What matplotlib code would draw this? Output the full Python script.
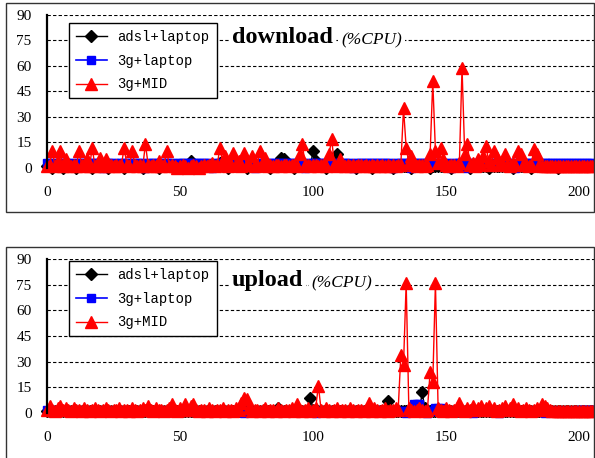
import matplotlib.pyplot as plt
from matplotlib.patches import Rectangle

# sample index 0..205
x = list(range(206))

# download %CPU
dl_adsl = [1, 1, 0, 1, 1, 1, 0, 1, 1, 1, 1, 0, 1, 1, 1, 1, 1, 0, 1, 1,
           1, 1, 1, 0, 1, 1, 1, 1, 1, 0, 1, 1, 1, 1, 1, 1, 0, 1, 1, 1,
           1, 1, 0, 1, 1, 1, 1, 1, 1, 1, 0, 1, 1, 1, 4, 1, 1, 1, 0, 1,
           1, 1, 1, 1, 1, 3, 1, 1, 0, 1, 1, 1, 1, 1, 1, 0, 1, 1, 1, 1,
           1, 1, 1, 1, 0, 1, 1, 1, 6, 5, 1, 1, 1, 0, 1, 1, 1, 1, 1, 1,
           10, 4, 1, 1, 1, 0, 1, 1, 1, 8, 3, 1, 1, 1, 1, 1, 0, 1, 1, 1,
           1, 1, 0, 1, 1, 1, 1, 1, 1, 1, 0, 1, 1, 1, 1, 1, 1, 0, 1, 1,
           1, 1, 1, 1, 0, 1, 1, 1, 1, 1, 1, 1, 0, 1, 1, 1, 1, 1, 1, 0,
           1, 1, 1, 1, 1, 1, 0, 1, 1, 1, 1, 1, 1, 1, 1, 0, 1, 1, 1, 1,
           1, 1, 0, 1, 1, 1, 1, 1, 1, 1, 1, 1, 0, 1, 1, 1, 1, 1, 1, 1,
           1, 1, 1, 1, 1, 1]
dl_3g = [3, 3, 3, 2, 3, 3, 3, 3, 3, 3, 2, 3, 3, 3, 3, 3, 3, 3, 3, 3,
         3, 0, 3, 3, 3, 3, 2, 3, 3, 3, 3, 3, 3, 3, 3, 3, 3, 0, 3, 3,
         3, 3, 3, 3, 3, 3, 3, 3, 2, 3, 3, 3, 3, 3, 3, 3, 3, 3, 3, 3,
         3, 3, 0, 3, 3, 3, 3, 3, 3, 3, 3, 2, 3, 3, 3, 3, 3, 3, 0, 3,
         3, 3, 3, 3, 3, 3, 3, 3, 3, 3, 3, 3, 3, 3, 3, 3, 3, 0, 3, 3,
         3, 3, 3, 3, 3, 3, 3, 3, 3, 3, 3, 3, 3, 3, 3, 0, 3, 3, 3, 3,
         3, 3, 3, 3, 3, 3, 3, 3, 3, 3, 0, 3, 3, 3, 3, 3, 3, 0, 3, 3,
         3, 3, 3, 3, 3, 3, 3, 3, 3, 3, 3, 3, 0, 3, 3, 3, 3, 3, 0, 3,
         3, 3, 3, 3, 3, 3, 3, 3, 3, 3, 3, 3, 3, 3, 3, 3, 0, 3, 3, 3,
         3, 3, 3, 3, 3, 3, 3, 3, 3, 3, 3, 3, 3, 3, 3, 3, 3, 3, 3, 3,
         3, 3, 3, 3, 3, 3]
dl_mid = [1, 2, 10, 1, 4, 10, 1, 5, 2, 1, 2, 1, 10, 2, 1, 5, 1, 12, 1, 2,
          6, 1, 5, 1, 2, 1, 2, 1, 2, 12, 2, 1, 10, 2, 1, 2, 1, 14, 2, 1,
          2, 1, 4, 1, 2, 10, 1, 2, 1, 0, 1, 2, 1, 0, 1, 2, 1, 0, 1, 2,
          1, 2, 3, 1, 2, 12, 3, 7, 1, 2, 9, 2, 4, 1, 9, 2, 2, 7, 1, 2,
          10, 2, 6, 1, 2, 1, 2, 2, 1, 2, 2, 1, 2, 2, 1, 8, 14, 2, 2, 1,
          2, 2, 1, 2, 2, 1, 8, 17, 2, 1, 5, 2, 1, 2, 1, 2, 1, 2, 2, 1,
          2, 1, 2, 1, 2, 1, 2, 1, 2, 1, 2, 1, 2, 2, 35, 12, 3, 7, 2, 1,
          2, 2, 1, 2, 8, 51, 10, 3, 12, 5, 2, 1, 2, 2, 1, 3, 59, 8, 14, 2,
          3, 1, 5, 2, 7, 13, 4, 2, 10, 6, 2, 3, 8, 2, 1, 3, 2, 10, 8, 2,
          2, 1, 2, 11, 8, 2, 1, 1, 1, 1, 1, 1, 1, 1, 1, 1, 1, 1, 1, 1,
          1, 1, 1, 1, 1, 1]

# upload %CPU
ul_adsl = [1, 1, 1, 1, 1, 1, 1, 1, 1, 1, 1, 1, 1, 1, 1, 1, 1, 1, 1, 1,
           1, 1, 1, 1, 1, 1, 1, 1, 1, 1, 1, 1, 1, 1, 1, 1, 1, 1, 1, 1,
           1, 1, 1, 1, 1, 1, 1, 1, 1, 1, 1, 1, 1, 1, 1, 1, 1, 1, 1, 1,
           1, 1, 1, 1, 1, 1, 1, 1, 1, 1, 1, 1, 1, 1, 1, 1, 1, 1, 1, 1,
           1, 1, 1, 1, 1, 1, 1, 3, 1, 1, 1, 1, 1, 1, 1, 1, 1, 1, 1, 9,
           2, 1, 1, 1, 1, 1, 1, 1, 1, 1, 1, 1, 1, 1, 1, 1, 1, 1, 1, 1,
           1, 1, 1, 1, 1, 1, 1, 1, 7, 1, 1, 1, 1, 1, 1, 1, 1, 1, 1, 1,
           1, 12, 3, 1, 1, 1, 1, 1, 1, 1, 1, 1, 1, 1, 1, 1, 1, 1, 1, 1,
           1, 1, 1, 1, 1, 1, 1, 1, 1, 1, 1, 1, 1, 1, 1, 1, 1, 1, 1, 1,
           1, 1, 1, 1, 1, 1, 1, 1, 1, 1, 1, 1, 1, 1, 1, 1, 1, 1, 1, 1,
           1, 1, 1, 1, 1, 1]
ul_3g = [2, 2, 1, 1, 1, 1, 1, 1, 1, 1, 1, 1, 1, 1, 1, 1, 1, 1, 1, 1,
         1, 1, 1, 1, 1, 1, 1, 1, 1, 1, 1, 1, 1, 1, 1, 1, 1, 1, 1, 1,
         1, 1, 1, 1, 1, 1, 1, 1, 1, 1, 1, 1, 1, 1, 1, 1, 1, 1, 1, 1,
         1, 1, 1, 1, 1, 1, 1, 1, 1, 1, 1, 1, 1, 1, 0, 1, 1, 1, 1, 1,
         1, 1, 1, 1, 1, 1, 1, 1, 1, 1, 1, 1, 1, 1, 1, 1, 1, 1, 1, 1,
         1, 0, 1, 1, 1, 1, 1, 1, 1, 1, 1, 1, 1, 1, 1, 1, 1, 1, 1, 1,
         1, 1, 1, 2, 2, 1, 1, 1, 1, 1, 1, 1, 1, 1, 1, 0, 1, 1, 5, 5,
         5, 1, 1, 0, 1, 1, 3, 3, 3, 1, 1, 1, 1, 1, 1, 1, 1, 1, 1, 1,
         0, 1, 1, 1, 1, 1, 1, 1, 1, 1, 0, 1, 1, 1, 1, 1, 1, 1, 1, 1,
         1, 1, 1, 1, 1, 1, 1, 0, 1, 1, 1, 1, 1, 1, 1, 1, 1, 1, 1, 1,
         2, 2, 2, 2, 2, 2]
ul_mid = [2, 4, 2, 1, 3, 4, 2, 3, 2, 1, 3, 2, 2, 1, 3, 2, 1, 2, 3, 2,
          1, 2, 3, 2, 1, 2, 2, 3, 1, 2, 2, 1, 3, 2, 1, 2, 3, 2, 4, 2,
          1, 3, 2, 2, 1, 2, 3, 5, 2, 1, 3, 2, 5, 2, 4, 5, 2, 1, 2, 2,
          1, 3, 2, 1, 2, 2, 3, 1, 2, 2, 1, 3, 2, 6, 9, 8, 3, 1, 2, 2,
          1, 2, 3, 1, 2, 2, 1, 3, 2, 1, 2, 2, 3, 1, 5, 2, 1, 2, 3, 1,
          2, 3, 16, 2, 1, 3, 2, 1, 2, 3, 1, 2, 2, 1, 3, 2, 1, 2, 2, 1,
          2, 6, 1, 3, 2, 1, 2, 3, 1, 2, 2, 3, 2, 34, 28, 76, 3, 2, 1, 2,
          3, 2, 1, 2, 24, 18, 76, 3, 2, 1, 3, 2, 1, 2, 3, 6, 2, 1, 3, 2,
          4, 2, 3, 4, 2, 3, 4, 2, 3, 1, 2, 3, 4, 2, 3, 5, 2, 3, 1, 2,
          3, 2, 1, 2, 3, 2, 5, 4, 3, 2, 1, 1, 1, 1, 1, 1, 1, 1, 1, 1,
          1, 1, 1, 1, 1, 1]

labels = ['adsl+laptop', '3g+laptop', '3g+MID']
yticks = [0, 15, 30, 45, 60, 75, 90]
xticks = [0, 50, 100, 150, 200]

W, H = 595, 458
fig = plt.figure(figsize=(W / 100, H / 100), dpi=100)


def px(x0, y0, w, h):
    return [x0 / W, 1 - (y0 + h) / H, w / W, h / H]


# outer frames around each panel
fig.patches.append(Rectangle((6 / W, 1 - 212 / H), 588 / W, 209 / H,
                             transform=fig.transFigure, fill=False,
                             edgecolor='#333333', linewidth=1))
fig.patches.append(Rectangle((6 / W, -0.02), 588 / W, (458 - 247) / H + 0.02,
                             transform=fig.transFigure, fill=False,
                             edgecolor='#333333', linewidth=1))

panels = [
    (px(47, 15, 547, 155.5), 'download', dl_adsl, dl_3g, dl_mid, 23, 43),
    (px(47, 259, 547, 156.5), 'upload', ul_adsl, ul_3g, ul_mid, 261, 286),
]

for rect, name, adsl, g3, mid, leg_top, title_base in panels:
    ax = fig.add_axes(rect)
    ax.plot(x, adsl, color='black', marker='D', markersize=6, linewidth=1,
            label=labels[0], clip_on=False)
    ax.plot(x, g3, color='#0000ff', marker='s', markersize=6, linewidth=1.2,
            label=labels[1], clip_on=False)
    ax.plot(x, mid, color='#ff0000', marker='^', markersize=8, linewidth=1,
            label=labels[2], clip_on=False)

    ax.set_xlim(0, 205.6)
    ax.set_ylim(-1.5, 90)
    ax.set_yticks(yticks)
    ax.set_xticks(xticks)
    ax.tick_params(length=0, labelsize=11, pad=11)
    for t in ax.get_xticklabels() + ax.get_yticklabels():
        t.set_fontfamily('Liberation Serif')
    ax.yaxis.grid(True, color='black', linestyle=(0, (3, 2)), linewidth=0.8)
    ax.set_axisbelow(True)
    for s in ['top', 'right', 'bottom']:
        ax.spines[s].set_visible(False)
    ax.spines['left'].set_linewidth(1.6)
    ax.spines['left'].set_bounds(0, 90)

    leg = ax.legend(loc='upper left', bbox_to_anchor=(69 / W, 1 - leg_top / H),
                    bbox_transform=fig.transFigure, borderaxespad=0,
                    prop={'family': 'Liberation Mono', 'size': 10},
                    fancybox=False, framealpha=1, edgecolor='black',
                    handlelength=2.2, labelspacing=0.7, borderpad=0.5)
    leg.get_frame().set_linewidth(1)

    t1 = fig.text(232 / W, 1 - title_base / H, name, fontsize=17.5,
                  fontweight='bold', family='Liberation Serif', va='baseline',
                  bbox=dict(facecolor='white', edgecolor='none', pad=2))
    ax.annotate('(%CPU)', xy=(1, 0), xycoords=t1, xytext=(6, 0),
                textcoords='offset points', va='bottom', fontsize=12.5,
                style='italic', family='Liberation Serif',
                bbox=dict(facecolor='white', edgecolor='none', pad=2))

fig.savefig('out.png', dpi=100)
